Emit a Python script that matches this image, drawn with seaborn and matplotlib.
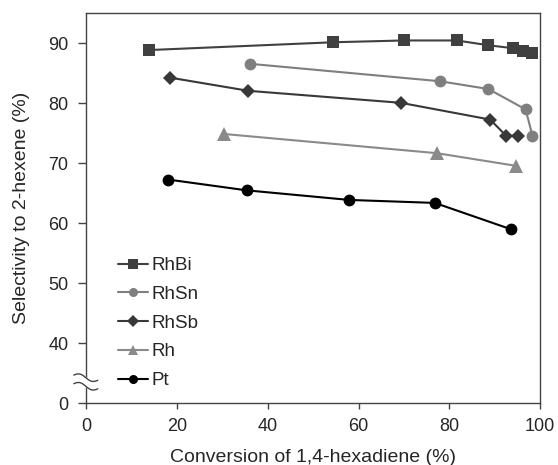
import numpy as np
import pandas as pd
import matplotlib
matplotlib.use("Agg")
import matplotlib.pyplot as plt
import seaborn as sns

# Conversion (%) and selectivity (%)
rhbi_x = [13.8, 54.4, 70.0, 81.6, 88.6, 94.1, 96.3, 98.2]
rhbi_y = [88.9, 90.2, 90.5, 90.5, 89.7, 89.2, 88.8, 88.4]
rhsn_x = [36.1, 77.9, 88.6, 96.8, 98.3]
rhsn_y = [86.6, 83.7, 82.4, 79.0, 74.6]
rhsb_x = [18.4, 35.7, 69.3, 89.0, 92.5, 95.1]
rhsb_y = [84.3, 82.1, 80.1, 77.3, 74.6, 74.6]
rh_x = [30.3, 77.2, 94.6]
rh_y = [74.9, 71.7, 69.6]
pt_x = [18.0, 35.3, 57.9, 76.8, 93.6]
pt_y = [67.3, 65.5, 63.9, 63.4, 59.0]

series = ["RhBi", "RhSn", "RhSb", "Rh", "Pt"]
xs = [rhbi_x, rhsn_x, rhsb_x, rh_x, pt_x]
ys = [rhbi_y, rhsn_y, rhsb_y, rh_y, pt_y]

frames = [pd.DataFrame({"conv": x, "sel": y, "cat": s}) for s, x, y in zip(series, xs, ys)]
df = pd.concat(frames, ignore_index=True)

colors = {"RhBi": "#404040", "RhSn": "#7f7f7f", "RhSb": "#383838", "Rh": "#8a8a8a", "Pt": "#000000"}
markers = {"RhBi": "s", "RhSn": "o", "RhSb": "D", "Rh": "^", "Pt": "o"}
msizes = {"RhBi": 9, "RhSn": 8.5, "RhSb": 7.5, "Rh": 10, "Pt": 8.5}

sns.set_style("ticks")
plt.rcParams["font.family"] = ["Liberation Sans", "DejaVu Sans"]

fig, ax = plt.subplots(figsize=(5.58, 4.65), dpi=100)
fig.subplots_adjust(left=0.155, right=0.968, top=0.971, bottom=0.133)

for s in series:
    d = df[df["cat"] == s]
    sns.lineplot(data=d, x="conv", y="sel", ax=ax, color=colors[s], marker=markers[s],
                 markersize=msizes[s], markeredgewidth=0, linewidth=1.5, sort=False,
                 label=s, estimator=None)

# broken y axis: bottom of axes shows "0"
ax.set_xlim(0, 100)
ax.set_ylim(30, 95)
ax.set_xticks([0, 20, 40, 60, 80, 100])
ax.set_yticks([30, 40, 50, 60, 70, 80, 90])
ax.set_yticklabels(["0", "40", "50", "60", "70", "80", "90"])
ax.tick_params(labelsize=13, width=1, color="#444444")
ax.tick_params(axis="x", length=4, pad=6.5)
ax.tick_params(axis="y", length=6, pad=7)
for sp in ax.spines.values():
    sp.set_color("#444444")
    sp.set_linewidth(1)

ax.set_xlabel("Conversion of 1,4-hexadiene (%)", fontsize=14, labelpad=10)
ax.set_ylabel("Selectivity to 2-hexene (%)", fontsize=14, labelpad=13)

# break marks on the y axis
t = np.linspace(-0.028, 0.025, 40)
wave = 0.006 * np.sin((t + 0.028) / 0.053 * 2 * np.pi)
y1 = 0.072 - (t + 0.028) * 0.25 + wave
y2 = y1 - 0.022
ax.fill_between(t, y1, y2, color="white", transform=ax.transAxes, clip_on=False, zorder=5)
ax.plot(t, y1, color="#444444", lw=1, transform=ax.transAxes, clip_on=False, zorder=6)
ax.plot(t, y2, color="#444444", lw=1, transform=ax.transAxes, clip_on=False, zorder=6)

leg = ax.legend(loc="upper left", bbox_to_anchor=(0.069, 0.375), frameon=False, fontsize=13.5,
                handlelength=1.6, handletextpad=0.2, labelspacing=0.62, borderaxespad=0,
                borderpad=0)
for h in leg.legend_handles:
    h.set_markersize(6.5)

fig.savefig("out.png", dpi=100)
